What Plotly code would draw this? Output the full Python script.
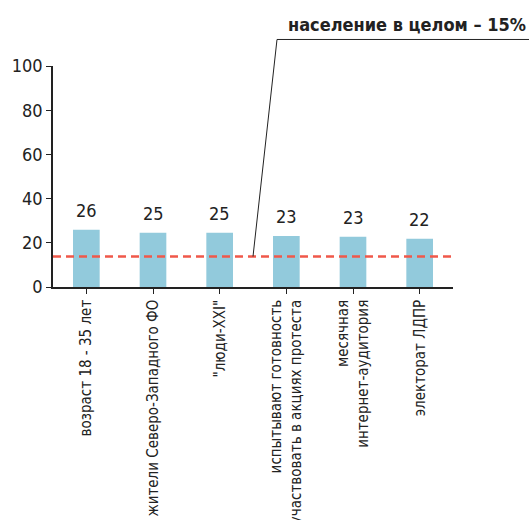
import plotly.graph_objects as go

categories = [
    "возраст 18 - 35 лет",
    "жители Северо-Западного ФО",
    "\"люди-XXI\"",
    "испытывают готовность<br>участвовать в акциях протеста",
    "месячная<br>интернет-аудитория",
    "электорат ЛДПР",
]
values = [25.9, 24.6, 24.6, 23.1, 22.7, 21.8]
value_labels = ["26", "25", "25", "23", "23", "22"]
population_value = 13.8
population_label = "население в целом – 15%"
y_ticks = [0, 20, 40, 60, 80, 100]

FONT = "DejaVu Sans Condensed, Roboto, sans-serif"

fig = go.Figure()
fig.add_trace(go.Bar(
    x=list(range(len(categories))),
    y=values,
    width=0.4,
    marker=dict(color="#92CADC", line=dict(width=0)),
))

for i, (v, lab) in enumerate(zip(values, value_labels)):
    fig.add_annotation(
        x=i, y=v, text=lab, showarrow=False, yanchor="bottom", yshift=7,
        font=dict(size=18, color="#222", family=FONT),
    )

fig.add_hline(y=population_value, line=dict(color="#F0584A", width=2.5, dash="8px,5px"))

# leader line from dashed line (between 3rd and 4th category) to the label
n = len(categories)
fig.add_shape(
    type="path", xref="paper", yref="paper",
    path=f"M {3/n},{population_value/100} L {3.36/n},1.12 L 1.2,1.12",
    line=dict(color="#222", width=1),
)
fig.add_annotation(
    xref="paper", yref="paper", x=1.187, y=1.188, xanchor="right", yanchor="middle",
    text=f"<b>{population_label}</b>", showarrow=False,
    font=dict(size=18, color="#222", family=FONT),
)

fig.update_layout(
    width=529, height=520,
    margin=dict(l=53, r=76, t=66, b=233, autoexpand=False),
    plot_bgcolor="white", paper_bgcolor="white",
    showlegend=False,
    bargap=0.6,
    font=dict(family=FONT, color="#222"),
)
fig.update_xaxes(
    tickmode="array", tickvals=list(range(n)), ticktext=categories,
    tickangle=-90, tickson="boundaries", ticks="outside", ticklen=5, tickcolor="#222",
    showline=True, linecolor="#222", linewidth=1.5, showgrid=False, automargin=False,
    range=[-0.5, n - 0.5], tickfont=dict(size=15, family=FONT, color="#222"),
)
fig.update_yaxes(
    range=[0, 100], tickvals=y_ticks, ticks="outside", ticklen=5, tickcolor="#222",
    showline=True, linecolor="#222", linewidth=1.5, showgrid=False, zeroline=False,
    automargin=False, tickfont=dict(size=18, family=FONT, color="#222"),
)

fig.write_html(
    "out.html",
    config={"displayModeBar": False},
    post_script="document.body.style.margin='0';document.body.style.overflow='hidden';",
)
